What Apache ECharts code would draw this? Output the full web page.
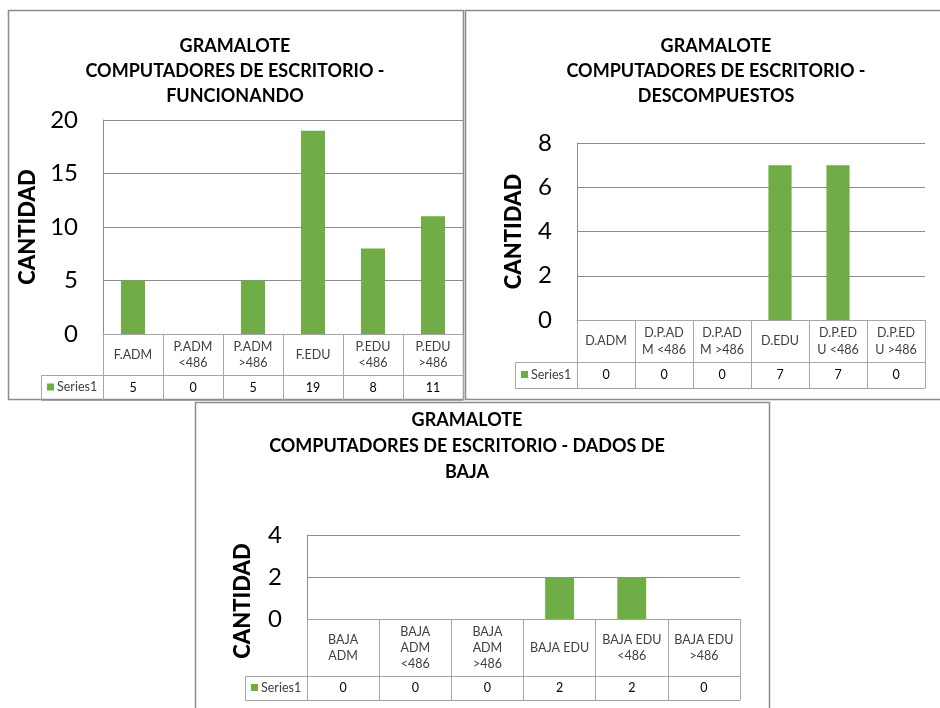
<!DOCTYPE html>
<html>
<head>
<meta charset="utf-8">
<script src="https://cdn.jsdelivr.net/npm/echarts@6/dist/echarts.min.js"></script>
<style>html,body{margin:0;padding:0;background:#fff}#c{width:940px;height:708px}</style>
</head>
<body>
<div id="c"></div>
<script>
// ---- data ----
const seriesName = 'Series1';
const titleF = 'GRAMALOTE\nCOMPUTADORES DE ESCRITORIO -\nFUNCIONANDO';
const catsF = ['F.ADM', 'P.ADM\n<486', 'P.ADM\n>486', 'F.EDU', 'P.EDU\n<486', 'P.EDU\n>486'];
const valsF = [5, 0, 5, 19, 8, 11];
const yTicksF = [0, 5, 10, 15, 20];

const titleD = 'GRAMALOTE\nCOMPUTADORES DE ESCRITORIO -\nDESCOMPUESTOS';
const catsD = ['D.ADM', 'D.P.AD\nM <486', 'D.P.AD\nM >486', 'D.EDU', 'D.P.ED\nU <486', 'D.P.ED\nU >486'];
const valsD = [0, 0, 0, 7, 7, 0];
const yTicksD = [0, 2, 4, 6, 8];

const titleB = 'GRAMALOTE\nCOMPUTADORES DE ESCRITORIO - DADOS DE\nBAJA';
const catsB = ['BAJA\nADM', 'BAJA\nADM\n<486', 'BAJA\nADM\n>486', 'BAJA EDU', 'BAJA EDU\n<486', 'BAJA EDU\n>486'];
const valsB = [0, 0, 0, 2, 2, 0];
const yTicksB = [0, 2, 4];

const yName = 'CANTIDAD';

// ---- layout & style ----
const FONT = 'Lato';
const GREEN = '#70AD47';
const GRID_C = '#8c8c8c';
const TABLE_C = '#a6a6a6';
const BORDER_C = '#8c8c8c';

const charts = [
  {title: titleF, cats: catsF, vals: valsF, ticks: yTicksF,
   left: 103, top: 120, width: 360, height: 214, row1: 41, row2: 25, legW: 62,
   titleX: 235, titleY: 34, titleLH: 25, box: [8.5, 10.5, 455, 389], nameGap: 64, nameShift: 0, yFont: 24, lh: 16},
  {title: titleD, cats: catsD, vals: valsD, ticks: yTicksD,
   left: 577, top: 143, width: 348, height: 177, row1: 42, row2: 26, legW: 62,
   titleX: 716, titleY: 34, titleLH: 25, box: [465.5, 10.5, 520, 389], nameGap: 52, nameShift: 0, yFont: 24, lh: 17},
  {title: titleB, cats: catsB, vals: valsB, ticks: yTicksB,
   left: 307, top: 535, width: 433, height: 84, row1: 57, row2: 24, legW: 62,
   titleX: 467, titleY: 407, titleLH: 26, box: [195.5, 402.5, 574, 400], nameGap: 53, nameShift: 48, yFont: 24, lh: 16}
];

const option = {
  animation: false,
  backgroundColor: '#fff',
  textStyle: {fontFamily: FONT},
  title: [], grid: [], xAxis: [], yAxis: [], series: [], legend: [], graphic: []
};

charts.forEach((c, i) => {
  option.title.push({
    text: c.title, left: c.titleX, top: c.titleY, textAlign: 'center', padding: 0,
    textStyle: {fontFamily: FONT, fontSize: 18, fontWeight: 'bold', color: '#000', lineHeight: c.titleLH}
  });
  option.grid.push({left: c.left, top: c.top, width: c.width, height: c.height, containLabel: false});
  const base = option.xAxis.length;
  // category row
  option.xAxis.push({
    type: 'category', gridIndex: i, position: 'bottom', offset: 0, data: c.cats,
    axisLine: {show: true, lineStyle: {color: TABLE_C, width: 1}},
    axisTick: {show: true, alignWithLabel: false, interval: 0, length: c.row1, lineStyle: {color: TABLE_C}},
    axisLabel: {interval: 0, fontFamily: FONT, fontSize: 12.5, color: '#404040', lineHeight: c.lh,
      verticalAlign: 'middle', margin: c.row1 / 2, align: 'center'},
    splitLine: {show: false}
  });
  // value row
  option.xAxis.push({
    type: 'category', gridIndex: i, position: 'bottom', offset: c.row1, data: c.cats,
    axisLine: {show: true, lineStyle: {color: TABLE_C, width: 1}},
    axisTick: {show: true, alignWithLabel: false, interval: 0, length: c.row2, lineStyle: {color: TABLE_C}},
    axisLabel: {interval: 0, fontFamily: FONT, fontSize: 12.5, color: '#000',
      verticalAlign: 'middle', margin: c.row2 / 2,
      formatter: (v, idx) => String(c.vals[idx])},
    splitLine: {show: false}
  });
  // bottom line
  option.xAxis.push({
    type: 'category', gridIndex: i, position: 'bottom', offset: c.row1 + c.row2, data: c.cats,
    axisLine: {show: true, lineStyle: {color: TABLE_C, width: 1}},
    axisTick: {show: false}, axisLabel: {show: false}, splitLine: {show: false}
  });
  const t = c.ticks;
  option.yAxis.push({
    type: 'value', gridIndex: i, min: t[0], max: t[t.length - 1], interval: t[1] - t[0],
    name: yName, nameLocation: 'middle', nameGap: c.nameGap, nameRotate: 90,
    nameTextStyle: {fontFamily: FONT, fontSize: 22, fontWeight: 900, color: '#000',
      padding: c.nameShift ? [0, c.nameShift, 0, 0] : 0},
    axisLine: {show: true, lineStyle: {color: GRID_C, width: 1}},
    axisTick: {show: false},
    axisLabel: {fontFamily: FONT, fontSize: c.yFont, color: '#000', margin: 25},
    splitLine: {show: true, lineStyle: {color: GRID_C, width: 1}}
  });
  option.series.push({
    type: 'bar', name: seriesName, xAxisIndex: base, yAxisIndex: i, data: c.vals,
    barWidth: '40%', itemStyle: {color: GREEN}
  });
  const zeroY = c.top + c.height;
  option.legend.push({
    data: [seriesName], left: c.left - c.legW + 6, top: zeroY + c.row1 + c.row2 / 2 - 7,
    padding: 0, itemWidth: 7, itemHeight: 7, icon: 'rect', itemGap: 0,
    textStyle: {fontFamily: FONT, fontSize: 12.5, color: '#404040', padding: [0, 0, 0, -2]},
    selectedMode: false
  });
  // legend cell border
  option.graphic.push({
    type: 'rect', silent: true, z: 1,
    shape: {x: c.left - c.legW + 0.5, y: zeroY + c.row1 + 0.5, width: c.legW, height: c.row2},
    style: {fill: 'none', stroke: TABLE_C, lineWidth: 1}
  });
  // chart border
  option.graphic.push({
    type: 'rect', silent: true, z: 0,
    shape: {x: c.box[0], y: c.box[1], width: c.box[2], height: c.box[3]},
    style: {fill: 'none', stroke: BORDER_C, lineWidth: 1.5}
  });
});

const chart = echarts.init(document.getElementById('c'), null, {renderer: 'canvas'});
chart.setOption(option);
</script>
</body>
</html>
